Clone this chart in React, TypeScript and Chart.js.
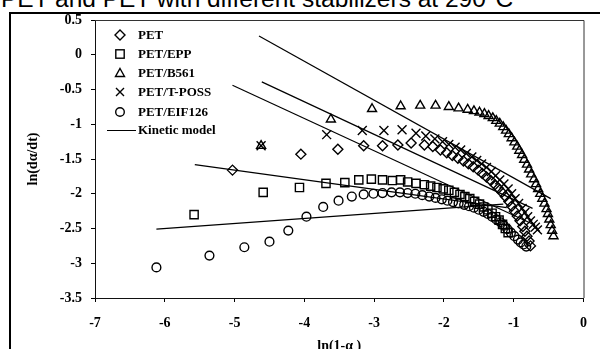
import { useEffect, useRef } from 'react';
import { Chart, registerables } from 'chart.js';

Chart.register(...registerables);

// Axis ranges and tick steps
const xMin = -7;
const xMax = 0;
const xStep = 1;
const yMin = -3.5;
const yMax = 0.5;
const yStep = 0.5;

// PET (diamonds)
const petX = [-5.03, -4.05, -3.52, -3.15, -2.88, -2.66, -2.47, -2.28, -2.16, -2.05, -1.96, -1.88, -1.8, -1.72, -1.65, -1.58, -1.51, -1.45, -1.39, -1.33, -1.27, -1.22, -1.17, -1.12, -1.07, -1.03, -0.99, -0.95, -0.91, -0.87, -0.84, -0.81, -0.78, -0.76];
const petY = [-1.66, -1.43, -1.36, -1.31, -1.31, -1.3, -1.27, -1.3, -1.32, -1.37, -1.41, -1.45, -1.49, -1.53, -1.57, -1.61, -1.66, -1.71, -1.76, -1.81, -1.87, -1.92, -1.98, -2.04, -2.11, -2.18, -2.25, -2.32, -2.39, -2.47, -2.54, -2.61, -2.68, -2.75];

// PET/EPP (squares)
const eppX = [-5.58, -4.59, -4.07, -3.69, -3.42, -3.22, -3.04, -2.88, -2.74, -2.62, -2.52, -2.4, -2.28, -2.19, -2.1, -2.01, -1.93, -1.85, -1.77, -1.7, -1.63, -1.56, -1.49, -1.43, -1.37, -1.31, -1.26, -1.21, -1.16, -1.12, -1.08];
const eppY = [-2.3, -1.98, -1.91, -1.85, -1.84, -1.8, -1.79, -1.8, -1.81, -1.8, -1.83, -1.85, -1.87, -1.89, -1.91, -1.93, -1.95, -1.98, -2.01, -2.04, -2.07, -2.11, -2.15, -2.19, -2.23, -2.28, -2.33, -2.38, -2.44, -2.5, -2.56];

// PET/B561 (triangles)
const b561X = [-4.62, -3.62, -3.03, -2.62, -2.34, -2.12, -1.93, -1.79, -1.66, -1.57, -1.49, -1.42, -1.36, -1.3, -1.25, -1.2, -1.15, -1.11, -1.07, -1.03, -0.99, -0.95, -0.92, -0.88, -0.85, -0.81, -0.78, -0.75, -0.71, -0.68, -0.65, -0.62, -0.59, -0.56, -0.53, -0.51, -0.49, -0.47, -0.45, -0.43];
const b561Y = [-1.31, -0.93, -0.78, -0.74, -0.73, -0.73, -0.75, -0.77, -0.79, -0.81, -0.83, -0.85, -0.88, -0.91, -0.95, -0.99, -1.04, -1.09, -1.14, -1.2, -1.26, -1.32, -1.38, -1.44, -1.51, -1.58, -1.65, -1.72, -1.79, -1.86, -1.93, -2.0, -2.07, -2.14, -2.22, -2.29, -2.37, -2.45, -2.53, -2.61];

// PET/T-POSS (crosses)
const tpossX = [-4.62, -3.68, -3.17, -2.86, -2.6, -2.4, -2.26, -2.13, -2.02, -1.93, -1.84, -1.76, -1.68, -1.6, -1.53, -1.46, -1.39, -1.32, -1.26, -1.2, -1.14, -1.08, -1.03, -0.98, -0.93, -0.88, -0.84, -0.8, -0.76, -0.72, -0.69, -0.66];
const tpossY = [-1.31, -1.15, -1.09, -1.09, -1.08, -1.13, -1.17, -1.21, -1.25, -1.29, -1.33, -1.37, -1.42, -1.47, -1.52, -1.57, -1.62, -1.68, -1.74, -1.8, -1.86, -1.93, -2.0, -2.07, -2.14, -2.21, -2.27, -2.33, -2.39, -2.44, -2.48, -2.52];

// PET/EIF126 (circles)
const eifX = [-6.12, -5.36, -4.86, -4.5, -4.23, -3.97, -3.73, -3.51, -3.32, -3.15, -3.01, -2.88, -2.75, -2.63, -2.52, -2.41, -2.31, -2.21, -2.12, -2.03, -1.95, -1.87, -1.79, -1.71, -1.64, -1.57, -1.5, -1.43, -1.37, -1.31, -1.25, -1.19, -1.14, -1.09, -1.04, -0.99, -0.94, -0.9, -0.86, -0.82];
const eifY = [-3.06, -2.89, -2.77, -2.69, -2.53, -2.33, -2.19, -2.1, -2.04, -2.01, -2.0, -1.99, -1.98, -1.98, -1.99, -2.0, -2.02, -2.04, -2.06, -2.08, -2.1, -2.12, -2.14, -2.16, -2.18, -2.2, -2.23, -2.26, -2.29, -2.33, -2.37, -2.41, -2.46, -2.51, -2.56, -2.61, -2.66, -2.7, -2.73, -2.76];

// Kinetic model fits (straight lines, start and end)
const modelB561X = [-4.65, -0.47];
const modelB561Y = [0.27, -2.07];
const modelTpossX = [-4.61, -0.73];
const modelTpossY = [-0.39, -2.21];
const modelPetX = [-5.03, -0.7];
const modelPetY = [-0.44, -2.45];
const modelEppX = [-5.57, -1.1];
const modelEppY = [-1.58, -2.2];
const modelEifX = [-6.12, -1.15];
const modelEifY = [-2.51, -2.15];

const seriesNames = ['PET', 'PET/EPP', 'PET/B561', 'PET/T-POSS', 'PET/EIF126', 'Kinetic model'];

const SERIF = "'Liberation Serif', 'Times New Roman', serif";
const SANS = "'Liberation Sans', Arial, sans-serif";

const pts = (xs: number[], ys: number[]) => xs.map((x, i) => ({ x, y: ys[i] }));

const markerSet = (label: string, xs: number[], ys: number[], style: string, radius: number) => ({
  type: 'scatter' as const,
  label,
  data: pts(xs, ys),
  pointStyle: style,
  pointRadius: radius,
  pointBorderWidth: 1.4,
  pointBorderColor: '#000',
  pointBackgroundColor: 'rgba(0,0,0,0)',
  showLine: false,
});

const modelSet = (xs: number[], ys: number[]) => ({
  type: 'line' as const,
  label: seriesNames[5],
  data: pts(xs, ys),
  borderColor: '#000',
  borderWidth: 1.2,
  pointRadius: 0,
  fill: false,
});

// Top and right edges of the plot box
const plotFrame = {
  id: 'plotFrame',
  afterDraw(chart: any) {
    const { ctx, chartArea } = chart;
    ctx.save();
    ctx.strokeStyle = '#333';
    ctx.lineWidth = 1;
    ctx.beginPath();
    ctx.moveTo(chartArea.left, chartArea.top + 0.5);
    ctx.lineTo(chartArea.right + 0.5, chartArea.top + 0.5);
    ctx.lineTo(chartArea.right + 0.5, chartArea.bottom);
    ctx.stroke();
    ctx.restore();
  },
};

const fmt = (v: number) => String(Math.round(v * 10) / 10);

function Symbol({ kind }: { kind: string }) {
  const s = { stroke: '#000', strokeWidth: 1.4, fill: 'none' };
  return (
    <svg width={14} height={14} viewBox="0 0 14 14" style={{ display: 'block' }}>
      {kind === 'rectRot' && <polygon points="7,2 12,7 7,12 2,7" {...s} />}
      {kind === 'rect' && <rect x={2.8} y={2.8} width={8.4} height={8.4} {...s} />}
      {kind === 'triangle' && <polygon points="7,2.5 11.5,10.5 2.5,10.5" {...s} />}
      {kind === 'crossRot' && <path d="M3,3 L11,11 M11,3 L3,11" {...s} />}
      {kind === 'circle' && <circle cx={7} cy={7} r={4.3} {...s} />}
    </svg>
  );
}

const legendStyles = ['rectRot', 'rect', 'triangle', 'crossRot', 'circle'];
const legendRows = [35, 54, 73, 92, 112];

export default function App() {
  const canvasRef = useRef<HTMLCanvasElement | null>(null);

  useEffect(() => {
    const canvas = canvasRef.current;
    if (!canvas) return;
    const chart = new Chart(canvas, {
      type: 'scatter',
      data: {
        datasets: [
          modelSet(modelB561X, modelB561Y),
          modelSet(modelTpossX, modelTpossY),
          modelSet(modelPetX, modelPetY),
          modelSet(modelEppX, modelEppY),
          modelSet(modelEifX, modelEifY),
          markerSet(seriesNames[0], petX, petY, 'rectRot', 5),
          markerSet(seriesNames[1], eppX, eppY, 'rect', 5.8),
          markerSet(seriesNames[2], b561X, b561Y, 'triangle', 5.2),
          markerSet(seriesNames[3], tpossX, tpossY, 'crossRot', 6.3),
          markerSet(seriesNames[4], eifX, eifY, 'circle', 4.4),
        ] as any,
      },
      options: {
        responsive: false,
        animation: false,
        layout: { padding: { left: 0, right: 8, top: 20, bottom: 0 } },
        plugins: { legend: { display: false }, tooltip: { enabled: false } },
        scales: {
          x: {
            type: 'linear',
            position: 'bottom',
            min: xMin,
            max: xMax,
            ticks: {
              stepSize: xStep,
              color: '#000',
              padding: 13,
              font: { family: SERIF, weight: 'bold', size: 14 },
              callback: (v: any) => fmt(Number(v)),
            },
            grid: { drawOnChartArea: false, drawTicks: true, tickLength: 4, color: '#000' },
            border: { display: true, color: '#111', width: 1 },
            title: {
              display: true,
              text: 'ln(1-α )',
              color: '#000',
              font: { family: SERIF, weight: 'bold', size: 14 },
              padding: { top: 0, bottom: 25.6 },
            },
            afterFit: (s: any) => {
              s.height = 82;
            },
          },
          y: {
            type: 'linear',
            position: 'left',
            min: yMin,
            max: yMax,
            ticks: {
              stepSize: yStep,
              color: '#000',
              padding: 9,
              font: { family: SERIF, weight: 'bold', size: 14 },
              callback: (v: any) => fmt(Number(v)),
            },
            grid: { drawOnChartArea: false, drawTicks: true, tickLength: 4, color: '#000' },
            border: { display: true, color: '#111', width: 1 },
            title: {
              display: true,
              text: 'ln(dα/dt)',
              color: '#000',
              font: { family: SERIF, weight: 'bold', size: 14 },
              padding: { top: 25, bottom: 0 },
            },
            afterFit: (s: any) => {
              s.width = 95;
            },
          },
        },
      } as any,
      plugins: [plotFrame],
    });
    return () => chart.destroy();
  }, []);

  return (
    <div style={{ position: 'fixed', left: 0, top: 0, width: 600, height: 349, overflow: 'hidden', background: '#fff' }}>
      <div
        style={{
          position: 'absolute',
          left: 1,
          top: -12.8,
          fontFamily: SANS,
          fontSize: 24.5,
          lineHeight: 1,
          whiteSpace: 'nowrap',
          color: '#000',
        }}
      >
        PET and PET with different stabilizers at 290°C
      </div>
      <div
        style={{
          position: 'absolute',
          left: 9,
          top: 12,
          width: 700,
          height: 400,
          borderLeft: '2px solid #000',
          borderTop: '2px solid #000',
        }}
      />
      <canvas ref={canvasRef} width={600} height={380} style={{ position: 'absolute', left: 0, top: 0, display: 'block' }} />
      {legendRows.map((y, i) => (
        <div key={seriesNames[i]} style={{ position: 'absolute', left: 113, top: y - 7, height: 14, display: 'flex', alignItems: 'center' }}>
          <Symbol kind={legendStyles[i]} />
          <span style={{ marginLeft: 11, fontFamily: SERIF, fontWeight: 'bold', fontSize: 13, lineHeight: '14px', color: '#000' }}>
            {seriesNames[i]}
          </span>
        </div>
      ))}
      <div style={{ position: 'absolute', left: 107, top: 123, height: 14, display: 'flex', alignItems: 'center' }}>
        <div style={{ width: 29, height: 0, borderTop: '1.3px solid #000' }} />
        <span style={{ marginLeft: 2, fontFamily: SERIF, fontWeight: 'bold', fontSize: 13, lineHeight: '14px', color: '#000' }}>
          {seriesNames[5]}
        </span>
      </div>
    </div>
  );
}
